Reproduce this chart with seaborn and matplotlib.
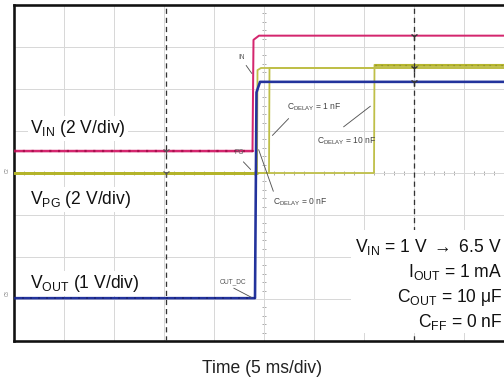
import numpy as np
import pandas as pd
import matplotlib
matplotlib.use("Agg")
import matplotlib.pyplot as plt
from matplotlib.patches import Rectangle
import seaborn as sns

# ---------------- scope settings ----------------
ms_per_div = 5
n_xdiv, n_ydiv = 10, 8

# channel scale (V/div) and ground position (divisions from bottom)
vin_scale, vin_gnd = 2.0, 4.02
vpg_scale, vpg_gnd = 2.0, 4.0
vout_scale, vout_gnd = 1.0, 1.02

# ---------------- waveforms: time (ms), level (V) ----------------
vin_t = [0.0, 23.85, 23.95, 24.5, 50.0]
vin_v = [1.0, 1.0, 6.3, 6.5, 6.5]

vout_t = [0.0, 24.1, 24.25, 24.6, 50.0]
vout_v = [0.0, 0.0, 4.9, 5.15, 5.15]

pg0_t = [0.0, 24.3, 24.35, 24.7, 50.0]     # C_DELAY = 0 nF
pg0_v = [0.0, 0.0, 4.9, 5.0, 5.0]
pg1_t = [0.0, 25.5, 25.55, 50.0]           # C_DELAY = 1 nF
pg1_v = [0.0, 0.0, 5.0, 5.0]
pg10_t = [0.0, 36.0, 36.05, 50.0]          # C_DELAY = 10 nF
pg10_v = [0.0, 0.0, 5.15, 5.15]

cursor_t = [15.2, 40.0]

channel_labels = [r"V$_{\mathrm{IN}}$ (2 V/div)",
                  r"V$_{\mathrm{PG}}$ (2 V/div)",
                  r"V$_{\mathrm{OUT}}$ (1 V/div)"]
condition_lines = [r"V$_{\mathrm{IN}}$ = 1 V $\rightarrow$ 6.5 V",
                   r"I$_{\mathrm{OUT}}$ = 1 mA",
                   r"C$_{\mathrm{OUT}}$ = 10 μF",
                   r"C$_{\mathrm{FF}}$ = 0 nF"]
x_label = "Time (5 ms/div)"

# ---------------- style ----------------
sns.set_theme(style="white")
plt.rcParams["font.family"] = ["Liberation Sans", "DejaVu Sans"]
plt.rcParams["mathtext.fontset"] = "custom"
plt.rcParams["mathtext.rm"] = "Liberation Sans"
plt.rcParams["mathtext.it"] = "Liberation Sans:italic"
plt.rcParams["mathtext.bf"] = "Liberation Sans:bold"
plt.rcParams["mathtext.fallback"] = "stixsans"

C_VIN = "#d4266e"
C_VIN_DARK = "#a8104e"
C_PG = "#b4b42a"
C_PG_LIGHT = "#bfbf48"
C_VOUT = "#23339c"

W, H = 504, 384
fig = plt.figure(figsize=(W / 72, H / 72), dpi=72)
ax = fig.add_axes([14 / W, 43 / H, 500 / W, 336 / H])


def frame(t, v, scale, gnd):
    return pd.DataFrame({"t": t, "div": np.asarray(v) / scale + gnd})


def trace(df, color, lw, z, **kw):
    sns.lineplot(data=df, x="t", y="div", ax=ax, color=color, lw=lw,
                 sort=False, estimator=None, zorder=z, legend=False, **kw)


vin = frame(vin_t, vin_v, vin_scale, vin_gnd)
vout = frame(vout_t, vout_v, vout_scale, vout_gnd)
pg0 = frame(pg0_t, pg0_v, vpg_scale, vpg_gnd)
pg1 = frame(pg1_t, pg1_v, vpg_scale, vpg_gnd)
pg10 = frame(pg10_t, pg10_v, vpg_scale, vpg_gnd)

# PG traces for the three delay capacitors
trace(pg10, C_PG_LIGHT, 1.8, 3)
trace(pg1, C_PG_LIGHT, 1.8, 3)
trace(pg0, C_PG_LIGHT, 1.8, 3)
trace(pg0.iloc[:2], C_PG, 3.0, 4)
trace(pg10.iloc[2:], C_PG, 2.6, 4)
trace(pg10.iloc[2:], "#8a8a30", 1.2, 4, linestyle=(0, (1, 4)))

# VIN ramp
trace(vin, C_VIN, 2.0, 5)
trace(vin.iloc[:2], C_VIN, 2.4, 5)
trace(vin.iloc[:2], C_VIN_DARK, 2.2, 5, linestyle=(0, (1, 3)))

# VOUT
trace(vout, C_VOUT, 2.6, 6)
trace(vout.iloc[:2], "#1a2680", 2.0, 6, linestyle=(0, (1, 3)))

# ---------------- graticule ----------------
ax.set_xlim(0, n_xdiv * ms_per_div)
ax.set_ylim(0, n_ydiv)
ax.set_xticks(np.arange(0, n_xdiv * ms_per_div + 1, ms_per_div))
ax.set_yticks(np.arange(0, n_ydiv + 1, 1))
ax.grid(True, color="#d8d8d8", lw=1.0)
ax.tick_params(length=0, labelbottom=False, labelleft=False)
ax.set_xlabel("")
ax.set_ylabel("")
for side in ["left", "top", "bottom"]:
    ax.spines[side].set_color("#111111")
    ax.spines[side].set_linewidth(2.6)
ax.spines["right"].set_visible(False)

# centre axes with minor tick marks
cx = ax.secondary_xaxis(0.5)
cx.set_xticks(np.arange(0, n_xdiv * ms_per_div + 1, ms_per_div))
cx.set_xticks(np.arange(0, n_xdiv * ms_per_div + 0.1, ms_per_div / 5), minor=True)
cx.tick_params(which="both", direction="inout", colors="#9a9a9a",
               labelbottom=False, labeltop=False)
cx.tick_params(which="major", length=6, width=1)
cx.tick_params(which="minor", length=4, width=0.8)
for s in cx.spines.values():
    s.set_color("#b0b0b0")
    s.set_linewidth(1.0)

cy = ax.secondary_yaxis(0.5)
cy.set_yticks(np.arange(0, n_ydiv + 1, 1))
cy.set_yticks(np.arange(0, n_ydiv + 0.01, 0.2), minor=True)
cy.tick_params(which="both", direction="inout", colors="#9a9a9a",
               labelleft=False, labelright=False)
cy.tick_params(which="major", length=6, width=1)
cy.tick_params(which="minor", length=4, width=0.8)
for s in cy.spines.values():
    s.set_color("#b0b0b0")
    s.set_linewidth(1.0)

# cursors
for ct in cursor_t:
    ax.axvline(ct, color="#333333", lw=1.3, ls=(0, (4, 3)), zorder=7)
ax.plot([cursor_t[1]] * 3,
        [vin["div"].iloc[-1], pg0["div"].iloc[-1], vout["div"].iloc[-1]],
        ls="none", marker="1", ms=8, mew=1.4, color="#333333", zorder=8)
ax.plot([cursor_t[0]] * 2, [vin["div"].iloc[0], pg0["div"].iloc[0]],
        ls="none", marker="1", ms=7, mew=1.2, color="#555555", zorder=8)

# ---------------- small handwritten-style callouts ----------------
small = dict(fontsize=8.5, color="#444444", zorder=9, fontstretch="condensed")
ax.text(30.0, 5.57, r"C$_{\mathrm{DELAY}}$ = 1 nF", ha="center", va="center", **small)
ax.text(33.3, 4.76, r"C$_{\mathrm{DELAY}}$ = 10 nF", ha="center", va="center", **small)
ax.text(28.6, 3.30, r"C$_{\mathrm{DELAY}}$ = 0 nF", ha="center", va="center", **small)
tiny = dict(ha="center", va="center", fontsize=6.5, color="#555555", zorder=9)
ax.text(22.8, 6.74, "IN", **tiny)
ax.text(22.5, 4.50, "PG", **tiny)
ax.text(21.9, 1.42, "OUT_DC", **tiny)

leader = dict(arrowstyle="-", color="#555555", lw=0.9)
for start, end in [((27.6, 5.33), (25.7, 4.86)),
                   ((32.8, 5.07), (35.8, 5.62)),
                   ((26.0, 3.52), (24.4, 4.60)),
                   ((23.1, 6.60), (23.9, 6.33)),
                   ((22.8, 4.30), (23.8, 4.05)),
                   ((21.8, 1.28), (23.9, 1.02))]:
    ax.annotate("", xy=end, xytext=start, arrowprops=leader, zorder=9)

# ---------------- labels ----------------
def px(x, y):
    return x / W, 1 - y / H

label_font = dict(fontsize=17.5, color="#111111", zorder=11)
for txt, (x, y) in zip(channel_labels, [(30, 133), (30, 204), (30, 288)]):
    fig.text(*px(x, y), txt, ha="left", va="baseline",
             bbox=dict(facecolor="white", edgecolor="none", pad=2.5), **label_font)

box_x0, box_y0, box_x1, box_y1 = 351, 230, 504, 333
fig.patches.append(Rectangle(px(box_x0, box_y1), (box_x1 - box_x0) / W,
                             (box_y1 - box_y0) / H, transform=fig.transFigure,
                             facecolor="white", edgecolor="none", zorder=10))
for txt, y in zip(condition_lines, [252, 277, 302, 327]):
    fig.text(*px(502, y), txt, ha="right", va="baseline", **label_font)

fig.text(*px(262, 373), x_label, ha="center", va="baseline",
         fontsize=17.5, color="#222222")

# tiny channel ground markers at the left edge
fig.text(*px(7, 170), "C2", rotation=90, fontsize=4.5, color="#777777",
         ha="center", va="center")
fig.text(*px(7, 293), "C3", rotation=90, fontsize=4.5, color="#777777",
         ha="center", va="center")

fig.savefig("out.png", dpi=72)
